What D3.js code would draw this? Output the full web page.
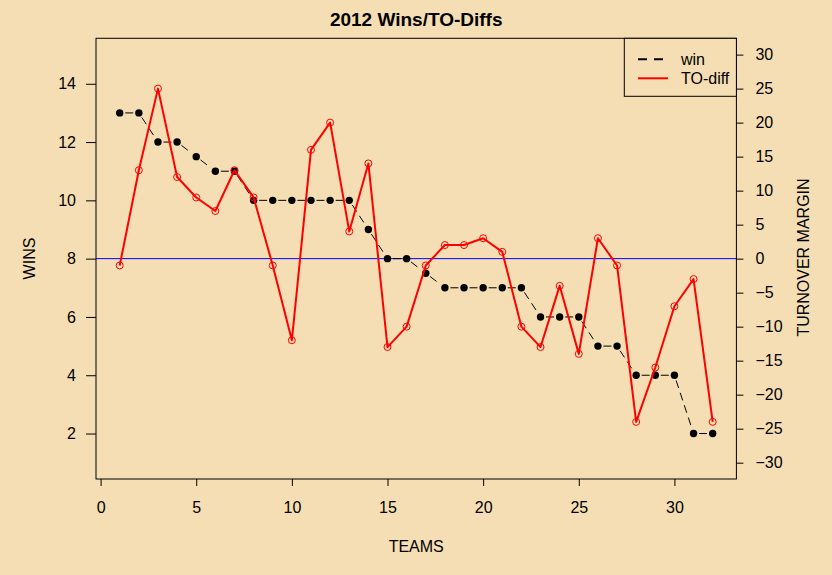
<!DOCTYPE html>
<html>
<head>
<meta charset="utf-8">
<script src="https://cdn.jsdelivr.net/npm/d3@7"></script>
<style>
  html, body { margin: 0; padding: 0; background: #F5DEB3; }
  svg { display: block; }
  text { font-family: "Liberation Sans", Arial, sans-serif; fill: #000; }
</style>
</head>
<body>
<svg id="chart" width="832" height="575"></svg>
<script>
// ---- data ----
const teams = d3.range(1, 33);
const wins = [13, 13, 12, 12, 11.5, 11, 11, 10, 10, 10, 10, 10, 10, 9, 8, 8,
              7.5, 7, 7, 7, 7, 7, 6, 6, 6, 5, 5, 4, 4, 4, 2, 2];
const toDiff = [-1, 13, 25, 12, 9, 7, 13, 9, -1, -12, 16, 20, 4, 14, -13, -10,
                -1, 2, 2, 3, 1, -10, -13, -4, -14, 3, -1, -24, -16, -7, -3, -24];
const xTicks = [0, 5, 10, 15, 20, 25, 30];
const winTicks = [2, 4, 6, 8, 10, 12, 14];
const toTicks = [-30, -25, -20, -15, -10, -5, 0, 5, 10, 15, 20, 25, 30];
const xLim = [1, 32];
const winLim = [1, 15];
const toLim = [-30, 30];
const legendLabels = ["win", "TO-diff"];
const titleText = "2012 Wins/TO-Diffs";

// ---- layout ----
const W = 832, H = 575;
const m = { left: 96, right: 96, top: 38.3, bottom: 96 };
const pl = m.left, pr = W - m.right + 0.4, pt = m.top, pb = H - m.bottom;

const expand = (lim) => { const p = (lim[1] - lim[0]) * 0.04; return [lim[0] - p, lim[1] + p]; };
const x = d3.scaleLinear().domain(expand(xLim)).range([pl, pr]);
const yL = d3.scaleLinear().domain(expand(winLim)).range([pb, pt]);
const yR = d3.scaleLinear().domain(expand(toLim)).range([pb, pt]);

const svg = d3.select("#chart");
svg.append("rect").attr("width", W).attr("height", H).attr("fill", "#F5DEB3");

const FS = 16;

// title
svg.append("text").attr("x", (pl + pr) / 2).attr("y", 25.7)
  .attr("text-anchor", "middle").attr("font-size", 19).attr("font-weight", "bold")
  .text(titleText);

// axes
const tickLen = 7;
const gx = svg.append("g").attr("transform", `translate(0,${pb})`)
  .call(d3.axisBottom(x).tickValues(xTicks).tickSize(tickLen).tickPadding(20).tickFormat(d3.format("d")));
const gl = svg.append("g").attr("transform", `translate(${pl},0)`)
  .call(d3.axisLeft(yL).tickValues(winTicks).tickSize(tickLen + 3).tickPadding(10).tickFormat(d3.format("d")));
const gr = svg.append("g").attr("transform", `translate(${pr},0)`)
  .call(d3.axisRight(yR).tickValues(toTicks).tickSize(tickLen).tickPadding(12).tickFormat(d3.format("d")));
[gx, gl, gr].forEach(g => {
  g.select(".domain").remove();
  g.selectAll(".tick line").attr("stroke", "#000").attr("stroke-width", 1);
  g.selectAll(".tick text").attr("font-size", FS).attr("font-family", "Liberation Sans, Arial, sans-serif").attr("fill", "#000");
});
gx.selectAll(".tick text").attr("dy", null).attr("dominant-baseline", "alphabetic").attr("y", 513.3 - pb);

// axis titles
svg.append("text").attr("x", (pl + pr) / 2).attr("y", 551.7).attr("text-anchor", "middle")
  .attr("font-size", FS).text("TEAMS");
svg.append("text").attr("transform", `translate(35,258.5) rotate(-90)`).attr("text-anchor", "middle")
  .attr("font-size", FS).text("WINS");
svg.append("text").attr("transform", `translate(808.5,257.5) rotate(-90)`).attr("text-anchor", "middle")
  .attr("font-size", FS).text("TURNOVER MARGIN");

// blue reference line at TO-diff 0
svg.append("line").attr("x1", pl).attr("x2", pr).attr("y1", yR(0)).attr("y2", yR(0))
  .attr("stroke", "#0000FF").attr("stroke-width", 1);

// wins: dashed segments with gaps (type "b")
const gap = 5.5;
const winPts = teams.map((t, i) => [x(t), yL(wins[i])]);
const gW = svg.append("g");
for (let i = 0; i < winPts.length - 1; i++) {
  const [x1, y1] = winPts[i], [x2, y2] = winPts[i + 1];
  const dx = x2 - x1, dy = y2 - y1, L = Math.hypot(dx, dy);
  if (L <= 2 * gap) continue;
  const ux = dx / L, uy = dy / L;
  gW.append("line")
    .attr("x1", x1 + ux * gap).attr("y1", y1 + uy * gap)
    .attr("x2", x2 - ux * gap).attr("y2", y2 - uy * gap)
    .attr("stroke", "#000").attr("stroke-width", 1).attr("stroke-dasharray", "8,5");
}
gW.selectAll("circle").data(teams).join("circle")
  .attr("cx", d => x(d)).attr("cy", (d, i) => yL(wins[i])).attr("r", 3.7).attr("fill", "#000");

// TO-diff: red solid line with open circles
const line = d3.line().x((d, i) => x(teams[i])).y(d => yR(d));
svg.append("path").datum(toDiff).attr("d", line).attr("fill", "none")
  .attr("stroke", "#FF0000").attr("stroke-width", 2).attr("stroke-linejoin", "round");
svg.append("g").selectAll("circle").data(toDiff).join("circle")
  .attr("cx", (d, i) => x(teams[i])).attr("cy", d => yR(d)).attr("r", 3.5)
  .attr("fill", "none").attr("stroke", "#FF0000").attr("stroke-width", 1);

// plot box
svg.append("rect").attr("x", pl).attr("y", pt).attr("width", pr - pl).attr("height", pb - pt)
  .attr("fill", "none").attr("stroke", "#000").attr("stroke-width", 1);

// legend
const lg = svg.append("g");
lg.append("rect").attr("x", 624.3).attr("y", pt).attr("width", pr - 624.3).attr("height", 58)
  .attr("fill", "#F5DEB3").attr("stroke", "#000").attr("stroke-width", 1);
const legendStyles = [
  { color: "#000", dash: "9,7" },
  { color: "#FF0000", dash: null }
];
legendLabels.forEach((lab, i) => {
  const yy = 59.3 + i * 19;
  lg.append("line").attr("x1", 638).attr("x2", 668).attr("y1", yy).attr("y2", yy)
    .attr("stroke", legendStyles[i].color).attr("stroke-width", 2)
    .attr("stroke-dasharray", legendStyles[i].dash);
  lg.append("text").attr("x", 681).attr("y", yy + 5.5).attr("font-size", FS).text(lab);
});
</script>
</body>
</html>
